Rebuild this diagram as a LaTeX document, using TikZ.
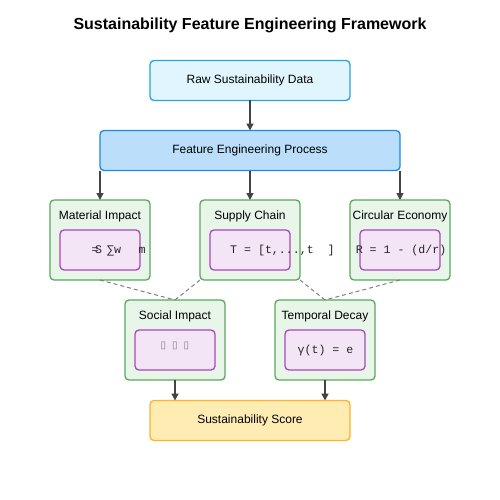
\documentclass[tikz,border=0pt]{standalone}
\usepackage{fontspec}
\setmainfont{Liberation Sans}
\newfontfamily\monof{Liberation Mono}
\newfontfamily\symf{DejaVu Sans}
\usetikzlibrary{arrows.meta}
\definecolor{rawfill}{HTML}{E1F5FE}
\definecolor{rawdraw}{HTML}{29A3E0}
\definecolor{fefill}{HTML}{BBDEFB}
\definecolor{fedraw}{HTML}{1E88E5}
\definecolor{grfill}{HTML}{E8F5E9}
\definecolor{grdraw}{HTML}{5BA85B}
\definecolor{pufill}{HTML}{F3E5F5}
\definecolor{pudraw}{HTML}{AB47BC}
\definecolor{scfill}{HTML}{FFECB3}
\definecolor{scdraw}{HTML}{FFB22C}
\definecolor{arr}{HTML}{444444}
\tikzset{
  box/.style={rounded corners=4pt, line width=1.3pt, inner sep=0pt, outer sep=0pt},
  wide/.style={box, minimum width=200pt, minimum height=40pt, font=\fontsize{12}{14}\selectfont},
  rawbox/.style={wide, fill=rawfill, draw=rawdraw},
  febox/.style={box, minimum width=300pt, minimum height=40pt, font=\fontsize{12}{14}\selectfont, fill=fefill, draw=fedraw},
  featbox/.style={box, minimum width=100pt, minimum height=80pt, fill=grfill, draw=grdraw},
  innerbox/.style={box, minimum width=80pt, minimum height=40pt, fill=pufill, draw=pudraw},
  scorebox/.style={wide, fill=scfill, draw=scdraw},
  lbl/.style={font=\fontsize{12}{14}\selectfont, text=black, inner sep=0pt},
  mono/.style={font=\monof\fontsize{11.6}{13}\selectfont, text=black!85, inner sep=0pt},
  flow/.style={draw=arr, line width=1.5pt, -{Triangle[length=7pt,width=7pt]}},
  link/.style={draw=gray, line width=1pt, dash pattern=on 4pt off 3pt},
}
\begin{document}
\begin{tikzpicture}[x=1pt,y=-1pt]
\useasboundingbox (0,0) rectangle (500,500);
\fill[white] (0,0) rectangle (500,500);
\node[font=\bfseries\fontsize{16}{19}\selectfont, inner sep=0pt] (title) at (250,25) {Sustainability Feature Engineering Framework};

\node[rawbox] (raw) at (250,80.5) {Raw Sustainability Data};
\node[febox] (fe) at (250,150.5) {Feature Engineering Process};
\draw[flow] (raw.south) -- (fe.north);

% feature boxes
\node[featbox] (matbox) at (100,240) {};
\node[featbox] (supbox) at (250,240) {};
\node[featbox] (cirbox) at (400,240) {};
\node[featbox] (socbox) at (175,340) {};
\node[featbox] (tembox) at (325,340) {};
\node[innerbox] (matin) at (100,250) {};
\node[innerbox] (supin) at (250,250) {};
\node[innerbox] (cirin) at (400,250) {};
\node[innerbox] (socin) at (175,350) {};
\node[innerbox] (temin) at (325,350) {};
\node[lbl] (mat) at (100,216) {Material Impact};
\node[lbl] (sup) at (250,216) {Supply Chain};
\node[lbl] (cir) at (400,216) {Circular Economy};
\node[lbl] (soc) at (175,316) {Social Impact};
\node[lbl] (tem) at (325,316) {Temporal Decay};

\draw[flow] (fe.south -| matbox.north) -- (matbox.north);
\draw[flow] (fe.south) -- (supbox.north);
\draw[flow] (fe.south -| cirbox.north) -- (cirbox.north);

\node[mono, anchor=base west] (mateq) at (91.5,253.5) {=};
\node[mono, anchor=base west] (matS) at (95,253.5) {S};
\node[mono, anchor=base west] (matsum) at (107,253.5) {∑w};
\node[mono, anchor=base west] (matm) at (138.5,253.5) {m};
\node[mono, anchor=base west] (supf) at (230,253.5) {T = [t,...,t\ \ ]};
\node[mono, anchor=base] (cirf) at (401,253.5) {R = 1 - (d/r)};
\node[font=\symf\fontsize{10}{12}\selectfont, text=gray, inner sep=0pt] (socf) at (175,346) {▯\hspace{6pt}▯\hspace{6pt}▯};
\node[mono, anchor=base] (temf) at (325.5,353.5) {γ(t) = e};

\draw[link] (matbox.south) -- (socbox.north);
\draw[link] (supbox.south west) -- (socbox.north);
\draw[link] (supbox.south east) -- (tembox.north);
\draw[link] (cirbox.south) -- (tembox.north);

\node[scorebox] (score) at (250,420.5) {Sustainability Score};
\draw[flow] (socbox.south) -- (socbox.south |- score.north);
\draw[flow] (tembox.south) -- (tembox.south |- score.north);
\end{tikzpicture}
\end{document}
